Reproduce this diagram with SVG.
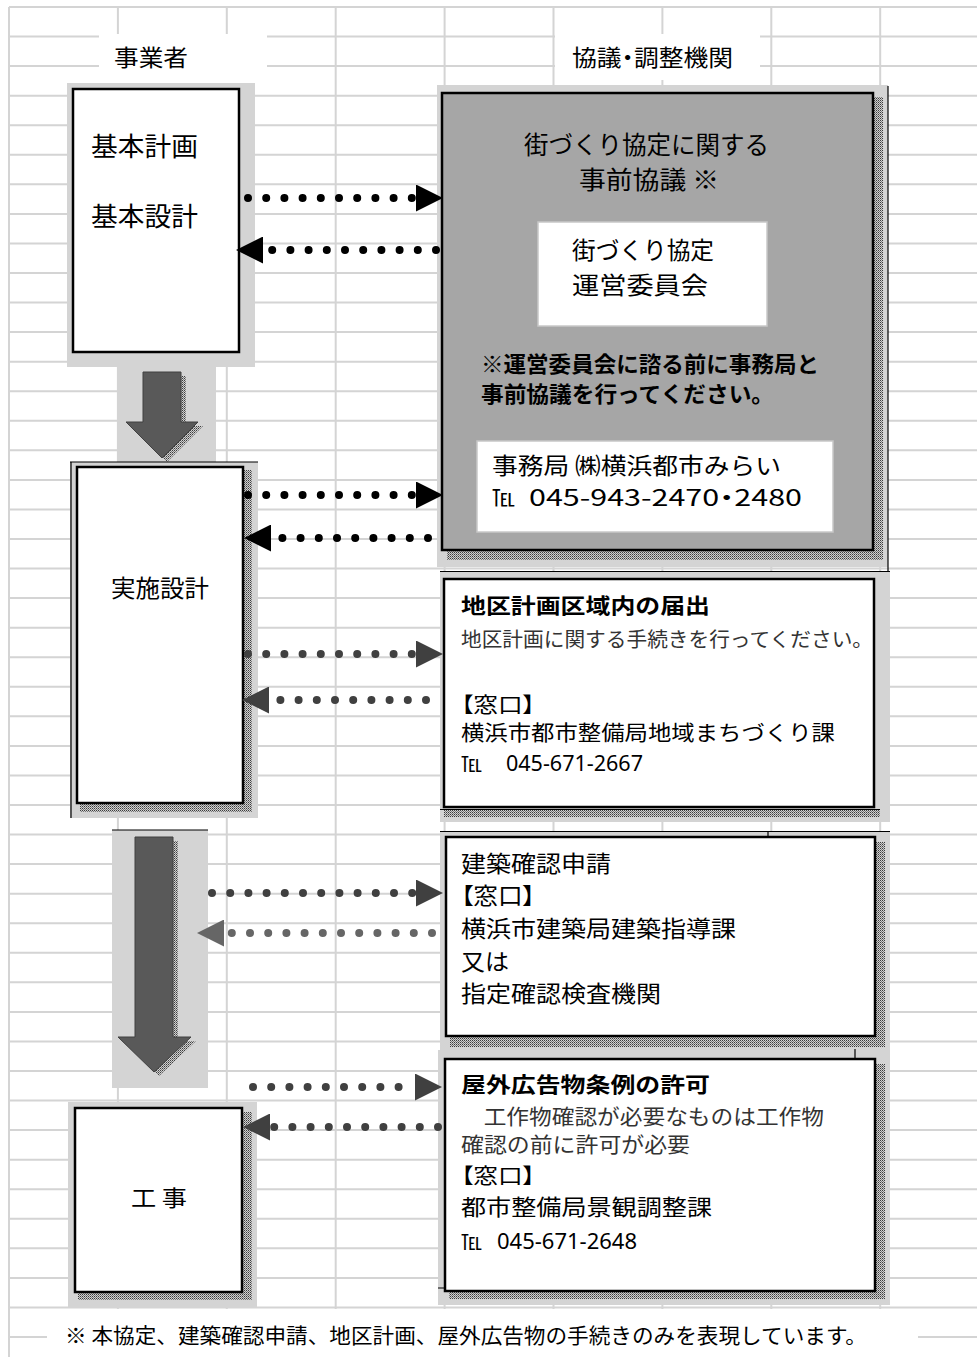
<svg xmlns="http://www.w3.org/2000/svg" width="977" height="1357" viewBox="0 0 977 1357">
<defs>
<style>
.grid{stroke:#d4d4d4;stroke-width:2;fill:none}
.bg{fill:#d4d4d4}
.box{fill:#fff;stroke:#000;stroke-width:2.5}
.sh{fill:url(#stip)}
.edge{stroke:#000;stroke-width:1.2;fill:none}
.t{font-family:'Noto Sans CJK JP','Noto Sans',sans-serif;fill:#000;font-weight:400}
.m{font-weight:400}
.b{font-weight:bold}
.s{font-family:'Liberation Serif','Noto Sans CJK JP',serif;fill:#333}
.num{font-family:'Noto Sans','Liberation Sans',sans-serif;fill:#000}
.pl{font-feature-settings:"palt"}
.dot{fill:none;stroke-width:8;stroke-linecap:round;stroke-dasharray:0 18.2}
.k{stroke:#000}
.g{stroke:#404040}
.g2{stroke:#666}
.darr{fill:#595959;stroke:#404040;stroke-width:1}
</style>
<pattern id="stip" width="2" height="2" patternUnits="userSpaceOnUse">
<rect width="2" height="2" fill="#d0d0d0"/>
<rect width="1" height="1" fill="#3c3c3c"/>
<rect x="1" y="1" width="1" height="1" fill="#7a7a7a"/>
</pattern>
<marker id="mk" markerUnits="userSpaceOnUse" markerWidth="27" markerHeight="27" refX="0" refY="13.5" orient="auto"><path d="M0,0 L27,13.5 L0,27 Z" fill="#000"/></marker>
<marker id="mg" markerUnits="userSpaceOnUse" markerWidth="27" markerHeight="27" refX="0" refY="13.5" orient="auto"><path d="M0,0 L27,13.5 L0,27 Z" fill="#404040"/></marker>
<marker id="mg2" markerUnits="userSpaceOnUse" markerWidth="27" markerHeight="27" refX="0" refY="13.5" orient="auto"><path d="M0,0 L27,13.5 L0,27 Z" fill="#666"/></marker>
</defs>
<rect width="977" height="1357" fill="#fff"/>
<g id="grid">
<path class="grid" d="M9,7H977M9,36.56H977M9,66.11H977M9,95.67H977M9,125.22H977M9,154.78H977M9,184.33H977M9,213.89H977M9,243.44H977M9,273H977M9,302.56H977M9,332.11H977M9,361.67H977M9,391.22H977M9,420.78H977M9,450.33H977M9,479.89H977M9,509.44H977M9,539H977M9,568.56H977M9,598.11H977M9,627.67H977M9,657.22H977M9,686.78H977M9,716.33H977M9,745.89H977M9,775.44H977M9,805H977M9,834.56H977M9,864.11H977M9,893.67H977M9,923.22H977M9,952.78H977M9,982.33H977M9,1011.89H977M9,1041.44H977M9,1071H977M9,1100.56H977M9,1130.11H977M9,1159.67H977M9,1189.22H977M9,1218.78H977M9,1248.33H977M9,1277.89H977M9,1307.44H977M9,1337H977"/>
<path class="grid" d="M9,7V1357M117.9,7V1357M226.8,7V1357M335.7,7V1357M444.6,7V1357M553.5,7V1357M662.4,7V1357M771.3,7V1357M880.2,7V1357"/>
<rect x="99" y="34" width="168" height="49" fill="#fff"/>
<rect x="555" y="34" width="205" height="46" fill="#fff"/>
<rect x="47" y="1309" width="871" height="48" fill="#fff"/>
</g>
<g id="headers">
<text class="t" x="114" y="66" font-size="23" textLength="74" lengthAdjust="spacingAndGlyphs">事業者</text>
<text class="t pl" x="572" y="66" font-size="23" textLength="161" lengthAdjust="spacingAndGlyphs">協議・調整機関</text>
</g>
<g id="n-kihon">
<rect class="bg" x="67" y="83" width="188" height="284"/>
<rect class="box" x="73" y="89" width="166" height="263"/>
<text class="t" x="91" y="156" font-size="26" textLength="107" lengthAdjust="spacingAndGlyphs">基本計画</text>
<text class="t" x="91" y="226" font-size="26" textLength="107" lengthAdjust="spacingAndGlyphs">基本設計</text>
</g>
<g id="n-arrow1">
<rect class="bg" x="117" y="367" width="99" height="95"/>
<path class="sh" d="M148,376H186V426H203L167,462L131,426H148Z"/>
<path class="darr" d="M143,372H181V422H198L162,458L126,422H143Z"/>
</g>
<g id="n-kyogi">
<rect class="bg" x="437" y="85" width="451" height="482"/>
<rect class="sh" x="873" y="97" width="10" height="463"/>
<rect class="sh" x="447" y="550" width="436" height="10"/>
<rect x="442" y="93" width="431" height="457" fill="#a6a6a6" stroke="#000" stroke-width="2.5"/>
<path class="edge" d="M888,86V580"/>
<text class="t" x="524" y="154" font-size="24.5" textLength="245" lengthAdjust="spacingAndGlyphs">街づくり協定に関する</text>
<text class="t" x="579" y="189" font-size="24.5" textLength="140" lengthAdjust="spacingAndGlyphs">事前協議 ※</text>
<rect x="538" y="222" width="229" height="104" fill="#fff" stroke="#c8c8c8" stroke-width="1.5"/>
<text class="t" x="572" y="259" font-size="24" textLength="142" lengthAdjust="spacingAndGlyphs">街づくり協定</text>
<text class="t" x="572" y="294" font-size="24" textLength="136" lengthAdjust="spacingAndGlyphs">運営委員会</text>
<text class="t b" x="481" y="372" font-size="22" textLength="338" lengthAdjust="spacingAndGlyphs">※運営委員会に諮る前に事務局と</text>
<text class="t b" x="481" y="402" font-size="22" textLength="293" lengthAdjust="spacingAndGlyphs">事前協議を行ってください。</text>
<rect x="477" y="441" width="356" height="91" fill="#fff" stroke="#c8c8c8" stroke-width="1.5"/>
<text class="t" x="492" y="474" font-size="22.5" textLength="289" lengthAdjust="spacingAndGlyphs">事務局 ㈱横浜都市みらい</text>
<text class="t" x="492" y="506" font-size="23">℡</text>
<text class="t pl" x="529" y="506" font-size="23" textLength="273" lengthAdjust="spacingAndGlyphs">045-943-2470・2480</text>
</g>
<g id="n-jisshi">
<rect class="bg" x="70" y="462" width="188" height="356"/>
<rect class="sh" x="243" y="470" width="9" height="342"/>
<rect class="sh" x="80" y="803" width="172" height="9"/>
<rect class="box" x="77" y="467" width="166" height="336"/>
<path class="edge" d="M70,462H258M71,462V818"/>
<text class="t" x="111" y="597" font-size="24" textLength="98" lengthAdjust="spacingAndGlyphs">実施設計</text>
</g>
<g id="n-chiku">
<rect class="bg" x="440" y="572" width="450" height="250"/>
<rect class="sh" x="444" y="810" width="436" height="7"/>
<rect class="box" x="444" y="579" width="430" height="228"/>
<path class="edge" d="M440,571.5H890M440,809.5H880"/>
<text class="t b" x="461" y="613" font-size="21" textLength="249" lengthAdjust="spacingAndGlyphs">地区計画区域内の届出</text>
<text class="s" x="461" y="646.5" font-size="20" textLength="412" lengthAdjust="spacingAndGlyphs">地区計画に関する手続きを行ってください。</text>
<text class="t m pl" x="461" y="712" font-size="21" textLength="74" lengthAdjust="spacingAndGlyphs">【窓口】</text>
<text class="t m" x="461" y="740" font-size="21" textLength="374" lengthAdjust="spacingAndGlyphs">横浜市都市整備局地域まちづくり課</text>
<text class="t" x="461" y="771" font-size="21">℡</text>
<text class="num" x="506" y="771" font-size="21" textLength="137" lengthAdjust="spacingAndGlyphs">045-671-2667</text>
</g>
<g id="arrow2">
<rect class="bg" x="112" y="830" width="96" height="258"/>
<path class="edge" d="M112,830H208"/>
<path class="sh" d="M140,841H178V1041H196L159,1076L123,1041H140Z"/>
<path class="darr" d="M135,837H173V1037H191L154,1072L118,1037H135Z"/>
</g>
<g id="n-kenchiku">
<rect class="bg" x="440" y="831" width="450" height="219"/>
<rect class="sh" x="875" y="842" width="10" height="205"/>
<rect class="sh" x="450" y="1037" width="435" height="10"/>
<rect class="box" x="446" y="837" width="429" height="199"/>
<path class="edge" d="M440,831.5H890M768,831V837"/>
<text class="t m" x="461" y="871.5" font-size="22.5" textLength="150" lengthAdjust="spacingAndGlyphs">建築確認申請</text>
<text class="t m pl" x="461" y="903.5" font-size="22.5" textLength="74" lengthAdjust="spacingAndGlyphs">【窓口】</text>
<text class="t m" x="461" y="936.5" font-size="22.5" textLength="275" lengthAdjust="spacingAndGlyphs">横浜市建築局建築指導課</text>
<text class="t m" x="461" y="969.5" font-size="22.5" textLength="48" lengthAdjust="spacingAndGlyphs">又は</text>
<text class="t m" x="461" y="1001.5" font-size="22.5" textLength="200" lengthAdjust="spacingAndGlyphs">指定確認検査機関</text>
</g>
<g id="n-okugai">
<rect class="bg" x="438" y="1050" width="452" height="255"/>
<rect class="sh" x="875" y="1064" width="10" height="235"/>
<rect class="sh" x="449" y="1291" width="436" height="8"/>
<rect class="box" x="445" y="1059" width="430" height="232"/>
<path class="edge" d="M855,1049V1058M438,1288H445"/>
<text class="t b" x="461" y="1092" font-size="21" textLength="249" lengthAdjust="spacingAndGlyphs">屋外広告物条例の許可</text>
<text class="s" x="461" y="1124" font-size="21" textLength="363" lengthAdjust="spacingAndGlyphs">　工作物確認が必要なものは工作物</text>
<text class="s" x="461" y="1152" font-size="21" textLength="229" lengthAdjust="spacingAndGlyphs">確認の前に許可が必要</text>
<text class="t m pl" x="461" y="1183" font-size="21" textLength="74" lengthAdjust="spacingAndGlyphs">【窓口】</text>
<text class="t m" x="461" y="1215" font-size="22" textLength="251" lengthAdjust="spacingAndGlyphs">都市整備局景観調整課</text>
<text class="t" x="461" y="1249" font-size="21">℡</text>
<text class="num" x="497" y="1249" font-size="21" textLength="140" lengthAdjust="spacingAndGlyphs">045-671-2648</text>
</g>
<g id="n-koji">
<rect class="bg" x="68" y="1102" width="189" height="205"/>
<rect class="sh" x="242" y="1112" width="10" height="188"/>
<rect class="sh" x="78" y="1292" width="174" height="8"/>
<rect class="box" x="75" y="1108" width="167" height="184"/>
<text class="t" x="131" y="1205.5" font-size="22" textLength="56" lengthAdjust="spacingAndGlyphs">工 事</text>
</g>
<g id="connectors">
<path class="dot k" d="M248,198H416" marker-end="url(#mk)"/>
<path class="dot k" d="M436,250H263" marker-end="url(#mk)"/>
<path class="dot k" d="M248,495H416" marker-end="url(#mk)"/>
<path class="dot k" d="M428,538H271" marker-end="url(#mk)"/>
<path class="dot g" d="M248,654H416" marker-end="url(#mg)"/>
<path class="dot g" d="M426,700H269" marker-end="url(#mg)"/>
<path class="dot g" d="M212,893H416" marker-end="url(#mg)"/>
<path class="dot g2" d="M432,933H224" marker-end="url(#mg2)"/>
<path class="dot g" d="M253,1087H415" marker-end="url(#mg)"/>
<path class="dot g" d="M438,1127H270" marker-end="url(#mg)"/>
</g>
<g id="footer">
<text class="t" x="65" y="1343" font-size="21" textLength="802" lengthAdjust="spacingAndGlyphs">※ 本協定、建築確認申請、地区計画、屋外広告物の手続きのみを表現しています。</text>
</g>
</svg>
